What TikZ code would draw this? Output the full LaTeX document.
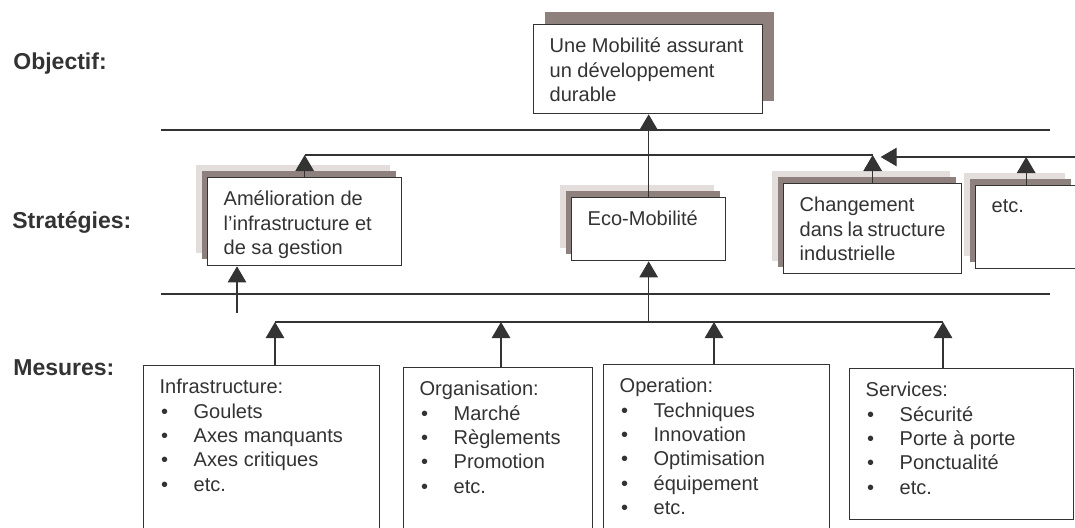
\documentclass[tikz,border=0pt]{standalone}
\usepackage{fontspec}
\setmainfont{Liberation Sans}
\usepackage{tikz}
\usetikzlibrary{arrows.meta,shadows,calc}
\definecolor{inkgray}{HTML}{333333}
\definecolor{shaddark}{HTML}{8E817D}
\definecolor{shadlight}{HTML}{E3DDDB}
\newcommand{\itm}[1]{\hspace*{0.3mm}\makebox[6.5mm][l]{\textbullet}#1}
\newcommand{\boxtxt}[3]{\parbox[t][#2][t]{#1}{#3}}

\begin{document}
\begin{tikzpicture}[x=0.2mm, y=-0.2mm,
    every node/.style={text=inkgray},
    level/.style={font=\fontsize{13.1}{15}\selectfont\bfseries, anchor=west, inner sep=0pt},
    card/.style={rectangle, draw=inkgray, line width=0.75pt, fill=white, anchor=north west, inner xsep=3.2mm, inner ysep=2.7mm, font=\fontsize{11.4}{13.9}\selectfont},
    stratcard/.style={card, general shadow={fill=shadlight, shadow xshift=-2.4mm, shadow yshift=2.6mm}, general shadow={fill=shaddark, shadow xshift=-1.2mm, shadow yshift=1.3mm}},
    goalcard/.style={card, general shadow={fill=shaddark, shadow xshift=2.3mm, shadow yshift=2.6mm}},
    link/.style={draw=inkgray, line width=0.6pt},
    arrow/.style={link, -{Triangle[width=3.7mm, length=3.2mm]}},
    sep/.style={draw=inkgray, line width=0.6pt}
]
\useasboundingbox (0,0) rectangle (1075,527);
\clip (0,0) rectangle (1075,527);

% Levels
\node[level] (lobj) at (13,64) {Objectif:};
\node[level] (lstr) at (12,222) {Stratégies:};
\node[level] (lmes) at (13,368) {Mesures:};

% Separators
\draw[sep] (161,130) -- (1050,130);
\draw[sep] (161,294) -- (1050,294);

% Objective
\node[goalcard] (goal) at (533,24) {\boxtxt{39.4mm}{12.4mm}{Une Mobilité assurant\\un développement\\durable}};

% Strategies
\node[stratcard] (amel) at (207,177) {\boxtxt{32.4mm}{12.2mm}{Amélioration de\\l’infrastructure et\\de sa gestion}};
\node[stratcard] (eco) at (571,197) {\boxtxt{24.4mm}{7.2mm}{Eco-Mobilité}};
\node[stratcard] (chg) at (783,183) {\boxtxt{29.2mm}{12.6mm}{Changement\\dans la structure\\industrielle}};
\node[stratcard] (etc) at (975,185) {\boxtxt{13.8mm}{11.2mm}{etc.}};

% Measures
\node[card] (infra) at (143,365) {\boxtxt{40.8mm}{29.6mm}{Infrastructure:\\\itm{Goulets}\\\itm{Axes manquants}\\\itm{Axes critiques}\\\itm{etc.}}};
\node[card] (orga) at (403,367) {\boxtxt{31.4mm}{29.2mm}{Organisation:\\\itm{Marché}\\\itm{Règlements}\\\itm{Promotion}\\\itm{etc.}}};
\node[card] (oper) at (603,364) {\boxtxt{38.8mm}{29.8mm}{Operation:\\\itm{Techniques}\\\itm{Innovation}\\\itm{Optimisation}\\\itm{équipement}\\\itm{etc.}}};
\node[card] (serv) at (849,368) {\boxtxt{38.4mm}{24.8mm}{Services:\\\itm{Sécurité}\\\itm{Porte à porte}\\\itm{Ponctualité}\\\itm{etc.}}};

% Bus points
\coordinate (sbus) at (0,155);
\coordinate (rin) at (1076,157);
\coordinate (ain) at (237,313);
\coordinate (tI) at (275,322);
\coordinate (tO) at (501,322);
\coordinate (tP) at (714,322);
\coordinate (tS) at (943,322);

% Strategies -> objective
\draw[arrow] (eco.north) -- (eco.north |- goal.south);
\draw[link] (amel.north |- sbus) -- (chg.north |- sbus);
\draw[arrow] (amel.north) -- (amel.north |- sbus);
\draw[arrow] (chg.north) -- (chg.north |- sbus);
\draw[arrow] (rin) -- ([xshift=1.6mm]chg.north |- rin);
\draw[arrow] (etc.north) -- (etc.north |- rin);
\draw[arrow] (ain) -- (ain |- amel.south);

% Measures -> strategies
\draw[link] (tI) -- (tS);
\draw[arrow] (eco.south |- tI) -- (eco.south);
\draw[arrow] (tI |- infra.north) -- (tI);
\draw[arrow] (tO |- orga.north) -- (tO);
\draw[arrow] (tP |- oper.north) -- (tP);
\draw[arrow] (tS |- serv.north) -- (tS);

\end{tikzpicture}
\end{document}
